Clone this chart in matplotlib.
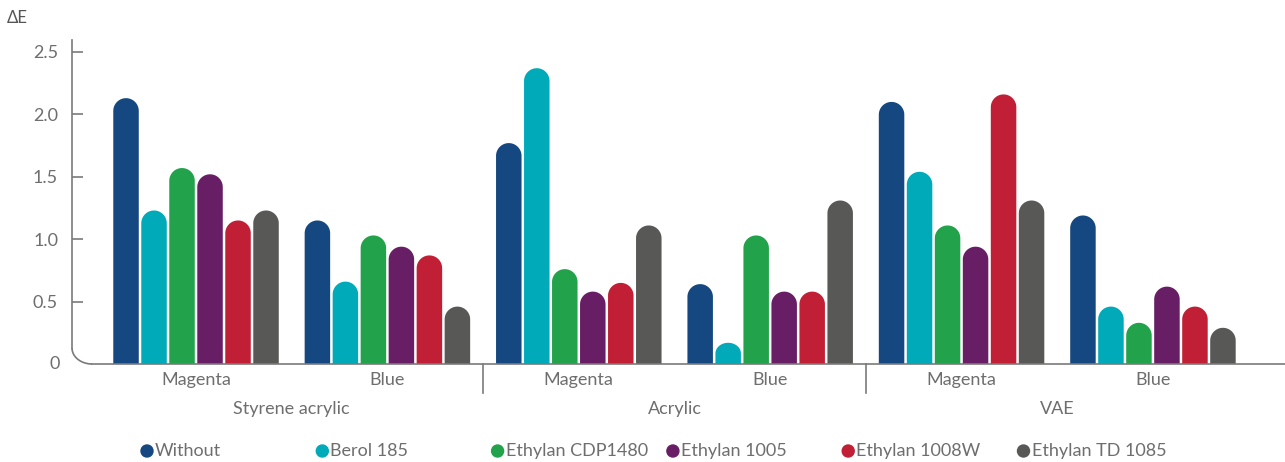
import numpy as np
import matplotlib
matplotlib.use("Agg")
import matplotlib.pyplot as plt
from matplotlib.patches import Polygon, Ellipse

plt.rcParams['font.family'] = ['Lato', 'DejaVu Sans']

groups = ['Styrene acrylic', 'Acrylic', 'VAE']
subcats = ['Magenta', 'Blue', 'Magenta', 'Blue', 'Magenta', 'Blue']
series = ['Without', 'Berol 185', 'Ethylan CDP1480', 'Ethylan 1005',
          'Ethylan 1008W', 'Ethylan TD 1085']
colors = ['#154880', '#00aab9', '#22a24a', '#681e64', '#c01f35', '#585857']

without = [2.13, 1.15, 1.77, 0.64, 2.10, 1.19]
berol = [1.23, 0.66, 2.37, 0.17, 1.54, 0.46]
cdp1480 = [1.57, 1.03, 0.76, 1.03, 1.11, 0.33]
e1005 = [1.52, 0.94, 0.58, 0.58, 0.94, 0.62]
e1008w = [1.15, 0.87, 0.65, 0.58, 2.16, 0.46]
td1085 = [1.23, 0.46, 1.11, 1.31, 1.31, 0.29]
values = [without, berol, cdp1480, e1005, e1008w, td1085]

W, H = 1285, 462
fig = plt.figure(figsize=(W / 100, H / 100), dpi=100)
ax = fig.add_axes([72 / W, (H - 364) / H, (W - 72) / W, 324.5 / H])

x0, x1 = -0.648, 5.69
ymax = 2.6
ax.set_xlim(x0, x1)
ax.set_ylim(0, ymax)
px_x = (W - 72) / (x1 - x0)
px_y = 324.5 / ymax

pitch = 28 / px_x
width = 25.5 / px_x
ry = (width / 2) * px_x / px_y  # circle cap in pixels
x = np.arange(len(subcats))
arc = np.linspace(np.pi, 0, 40)

for i, (vals, c) in enumerate(zip(values, colors)):
    for xi, v in zip(x, vals):
        cx = xi + (i - 2.5) * pitch
        r = min(ry, v / 2)
        pts = [(cx - width / 2, 0)]
        pts += list(zip(cx + width / 2 * np.cos(arc), v - r + r * np.sin(arc)))
        pts += [(cx + width / 2, 0)]
        ax.add_patch(Polygon(pts, closed=True, facecolor=c, edgecolor='none'))

# axes lines with rounded corner
line_c = '#7a7a7a'
txt_c = '#6e6e6e'
fs = 13
rx_c = 20 / px_x
ry_c = 16 / px_y
for s in ['top', 'right']:
    ax.spines[s].set_visible(False)
ax.spines['left'].set_bounds(ry_c, ymax)
ax.spines['bottom'].set_bounds(x0 + rx_c, x1)
for s in ['left', 'bottom']:
    ax.spines[s].set_color(line_c)
    ax.spines[s].set_linewidth(1.2)
t = np.linspace(0, np.pi / 2, 30)
ax.plot(x0 + rx_c - rx_c * np.sin(t), ry_c - ry_c * np.cos(t),
        color=line_c, lw=1.2, clip_on=False, solid_capstyle='butt')

ax.set_yticks([0.5, 1.0, 1.5, 2.0, 2.5])
ax.set_yticklabels(['0.5', '1.0', '1.5', '2.0', '2.5'])
ax.tick_params(axis='y', direction='in', length=8, width=1.2, color=line_c,
               labelcolor=txt_c, labelsize=fs, pad=10)
ax.set_xticks([])
ax.text(x0 - 12 / px_x, 0, '0', ha='right', va='center', color=txt_c,
        fontsize=fs)

# category labels
for xi, s in zip(x, subcats):
    ax.text(xi, -16 / px_y, s, ha='center', va='center', fontsize=fs,
            color=txt_c)
for gi, g in enumerate(groups):
    ax.text(2 * gi + 0.5, -45 / px_y, g, ha='center', va='center',
            fontsize=fs, color=txt_c)
for sep in [1.5, 3.5]:
    ax.plot([sep, sep], [0, -29 / px_y], color=line_c, lw=1.2, clip_on=False)

fig.text(7 / W, 1 - 18 / H, 'ΔE', ha='left', va='center', fontsize=12,
         color='#555555')

# legend
for i, (name, c) in enumerate(zip(series, colors)):
    lx = (147 + i * 175.3) / W
    ly = 1 - 451 / H
    fig.patches.append(Ellipse((lx, ly), 12 / W, 12 / H, color=c,
                               transform=fig.transFigure, figure=fig))
    fig.text(lx + 8 / W, ly, name, ha='left', va='center', fontsize=fs,
             color=txt_c)

fig.savefig('out.png', dpi=100)
